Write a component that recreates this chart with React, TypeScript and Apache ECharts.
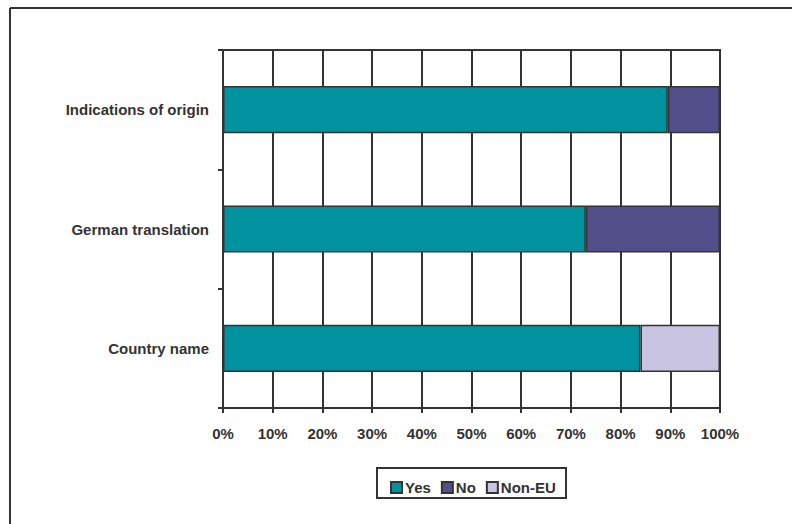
import React, { useEffect, useRef } from "react";
import * as echarts from "echarts";

const categories = ["Country name", "German translation", "Indications of origin"];
const yesValues = [84, 73, 89.5];
const noValues = [null, 27, 10.5];
const nonEuValues = [16, null, null];
const xTicks = [0, 10, 20, 30, 40, 50, 60, 70, 80, 90, 100];

export default function App() {
  const ref = useRef<HTMLDivElement>(null);
  useEffect(() => {
    if (!ref.current) return;
    const chart = echarts.init(ref.current, null, { renderer: "svg" });
    const font = "'Liberation Sans', Arial, sans-serif";
    const border = { borderColor: "#333", borderWidth: 1.5 };
    chart.setOption({
      animation: false,
      backgroundColor: "#fff",
      grid: {
        left: 223,
        right: 72,
        top: 50,
        bottom: 116,
        show: true,
        borderColor: "#333",
        borderWidth: 2,
        containLabel: false,
      },
      xAxis: {
        type: "value",
        min: xTicks[0],
        max: xTicks[xTicks.length - 1],
        interval: 10,
        axisLine: { show: true, lineStyle: { color: "#333", width: 2 } },
        axisTick: { show: true, length: 5, lineStyle: { color: "#333", width: 2 } },
        splitLine: { show: true, lineStyle: { color: "#333", width: 2 } },
        axisLabel: {
          formatter: "{value}%",
          color: "#333",
          fontFamily: font,
          fontWeight: "bold",
          fontSize: 15,
          margin: 18,
        },
      },
      yAxis: {
        type: "category",
        data: categories,
        axisLine: { show: true, lineStyle: { color: "#333", width: 2 } },
        axisTick: { show: true, length: 5, lineStyle: { color: "#333", width: 2 } },
        axisLabel: {
          color: "#333",
          fontFamily: font,
          fontWeight: "bold",
          fontSize: 15,
          margin: 14,
        },
      },
      legend: {
        data: ["Yes", "No", "Non-EU"],
        left: 385,
        top: 475,
        itemWidth: 11,
        itemHeight: 11,
        itemGap: 10,
        icon: "rect",
        textStyle: { color: "#333", fontFamily: font, fontWeight: "bold", fontSize: 15, padding: [0, 0, 0, -2] },
      },
      graphic: [
        { type: "rect", shape: { x: 377, y: 468, width: 189, height: 30 }, style: { fill: "none", stroke: "#333", lineWidth: 2 }, z: -1 },
        { type: "line", shape: { x1: 10, y1: 8, x2: 792, y2: 8 }, style: { stroke: "#333", lineWidth: 2 } },
        { type: "line", shape: { x1: 10, y1: 8, x2: 10, y2: 524 }, style: { stroke: "#333", lineWidth: 2 } },
      ],
      series: [
        { name: "Yes", type: "bar", stack: "a", data: yesValues, barWidth: "39.5%", itemStyle: { color: "#00929e", ...border } },
        { name: "No", type: "bar", stack: "a", data: noValues, barWidth: "39.5%", itemStyle: { color: "#524f8a", ...border } },
        { name: "Non-EU", type: "bar", stack: "a", data: nonEuValues, barWidth: "39.5%", itemStyle: { color: "#c8c4e1", ...border } },
      ],
    });
    return () => chart.dispose();
  }, []);
  return <div ref={ref} style={{ width: 792, height: 524, position: "absolute", left: 0, top: 0 }} />;
}
